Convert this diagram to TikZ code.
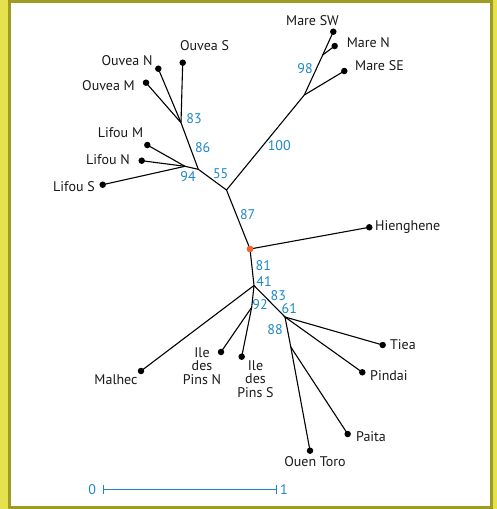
\documentclass[tikz,border=0pt]{standalone}
\usepackage{fontspec}
\setmainfont{PT Sans}
\definecolor{bgyellow}{HTML}{E6E24E}
\definecolor{frameolive}{HTML}{9E9C24}
\definecolor{bsblue}{HTML}{1B87C9}
\definecolor{rootorange}{HTML}{F0642A}
\begin{document}
\begin{tikzpicture}[x=1pt,y=-1pt,
  edge/.style={line width=1.1pt, black},
  leaf/.style={circle, fill=black, inner sep=0pt, minimum size=6.5pt},
  taxon/.style={font=\fontsize{14}{13.3}\selectfont, inner sep=0pt, align=center, text=black!90},
  bs/.style={font=\fontsize{14}{13.3}\selectfont, inner sep=0pt, text=bsblue},
  scalebar/.style={line width=1pt, bsblue}]
% background and frame
\fill[bgyellow] (0,0) rectangle (497,509);
\fill[frameolive] (8,0) rectangle (493,509);
\fill[white] (11,3) rectangle (490,505.5);
\useasboundingbox (0,0) rectangle (497,509);

% junctions
\coordinate (J1) at (226.5,190);
\coordinate (J86) at (198.3,169.3);
\coordinate (J83) at (181,122.7);
\coordinate (J94) at (185,166.3);
\coordinate (J98) at (304.3,95);
\coordinate (JSW) at (322.7,55);
\coordinate (J41) at (254,285.5);
\coordinate (J92) at (251.7,307.3);
\coordinate (J61) at (285,317);
\coordinate (J88) at (290.8,347);

% root and leaves
\node[leaf, fill=rootorange] (R) at (250,249) {};
\node[leaf] (ouvS) at (182.7,62.7) {};
\node[leaf] (ouvN) at (158.3,68.7) {};
\node[leaf] (ouvM) at (146,82.7) {};
\node[leaf] (lifM) at (147.3,145) {};
\node[leaf] (lifN) at (141.7,160.7) {};
\node[leaf] (lifS) at (102.7,184.7) {};
\node[leaf] (mSW) at (333.3,31.7) {};
\node[leaf] (mN) at (334.7,46) {};
\node[leaf] (mSE) at (344.3,71) {};
\node[leaf] (hien) at (369.3,227.3) {};
\node[leaf] (malh) at (141,371) {};
\node[leaf] (ileN) at (221,352) {};
\node[leaf] (ileS) at (241.7,356.7) {};
\node[leaf] (tiea) at (382.7,345) {};
\node[leaf] (pind) at (362.3,372.3) {};
\node[leaf] (pait) at (347.7,434) {};
\node[leaf] (ouen) at (310,450.7) {};

% edges
\draw[edge] (R.center) -- (J1) -- (J86) -- (J83);
\draw[edge] (J83) -- (ouvS.center);
\draw[edge] (J83) -- (ouvN.center);
\draw[edge] (J83) -- (ouvM.center);
\draw[edge] (J86) -- (J94);
\draw[edge] (J94) -- (lifM.center);
\draw[edge] (J94) -- (lifN.center);
\draw[edge] (J94) -- (lifS.center);
\draw[edge] (J1) -- (J98);
\draw[edge] (J98) -- (JSW);
\draw[edge] (JSW) -- (mSW.center);
\draw[edge] (JSW) -- (mN.center);
\draw[edge] (J98) -- (mSE.center);
\draw[edge] (R.center) -- (hien.center);
\draw[edge] (R.center) -- (J41);
\draw[edge] (J41) -- (malh.center);
\draw[edge] (J41) -- (J92);
\draw[edge] (J92) -- (ileN.center);
\draw[edge] (J92) -- (ileS.center);
\draw[edge] (J41) -- (J61);
\draw[edge] (J61) -- (tiea.center);
\draw[edge] (J61) -- (pind.center);
\draw[edge] (J61) -- (J88);
\draw[edge] (J88) -- (ouen.center);
\draw[edge] (J88) -- (pait.center);
\node[leaf, fill=rootorange] at (R) {};

% taxon labels
\node[taxon] (tMSW) at (312.5,20.7) {Mare SW};
\node[taxon] (tMN) at (368.3,43) {Mare N};
\node[taxon] (tMSE) at (379.5,66) {Mare SE};
\node[taxon] (tOS) at (204.5,46) {Ouvea S};
\node[taxon] (tON) at (127,61) {Ouvea N};
\node[taxon] (tOM) at (108.5,86) {Ouvea M};
\node[taxon] (tLM) at (120.5,133) {Lifou M};
\node[taxon] (tLN) at (108,160) {Lifou N};
\node[taxon] (tLS) at (74,187) {Lifou S};
\node[taxon, anchor=west] (tH) at (375,227) {Hienghene};
\node[taxon, anchor=west] (tT) at (390,345) {Tiea};
\node[taxon, anchor=west] (tP) at (370,376) {Pindai};
\node[taxon, anchor=west] (tPa) at (356,436.7) {Paita};
\node[taxon] (tOT) at (315,462) {Ouen Toro};
\node[taxon] (tMa) at (116,380) {Malhec};
\node[taxon] (tIN) at (202,366) {Ile\\des\\Pins N};
\node[taxon] (tIS) at (255.5,379) {Ile\\des\\Pins S};

% bootstrap values
\node[bs] (b83a) at (194,119) {83};
\node[bs] (b86) at (202.7,147.3) {86};
\node[bs] (b94) at (188,176.7) {94};
\node[bs] (b55) at (220.7,173.3) {55};
\node[bs] (b98) at (305,68.3) {98};
\node[bs] (b100) at (279.3,146) {100};
\node[bs] (b87) at (247.7,215) {87};
\node[bs] (b81) at (263.3,266) {81};
\node[bs] (b41) at (264,281.7) {41};
\node[bs] (b83b) at (278.3,296) {83};
\node[bs] (b92) at (260,305) {92};
\node[bs] (b61) at (289.3,308.3) {61};
\node[bs] (b88) at (275,330) {88};

% scale bar
\coordinate (s0) at (103.3,489.7);
\coordinate (s1) at (276,489.7);
\draw[scalebar] (s0) -- (s1);
\draw[scalebar] ([yshift=-4.5pt]s0) -- ([yshift=4.5pt]s0);
\draw[scalebar] ([yshift=-4.5pt]s1) -- ([yshift=4.5pt]s1);
\node[bs] (z0) at (92.3,489.3) {0};
\node[bs] (z1) at (284,489.3) {1};
\end{tikzpicture}
\end{document}
